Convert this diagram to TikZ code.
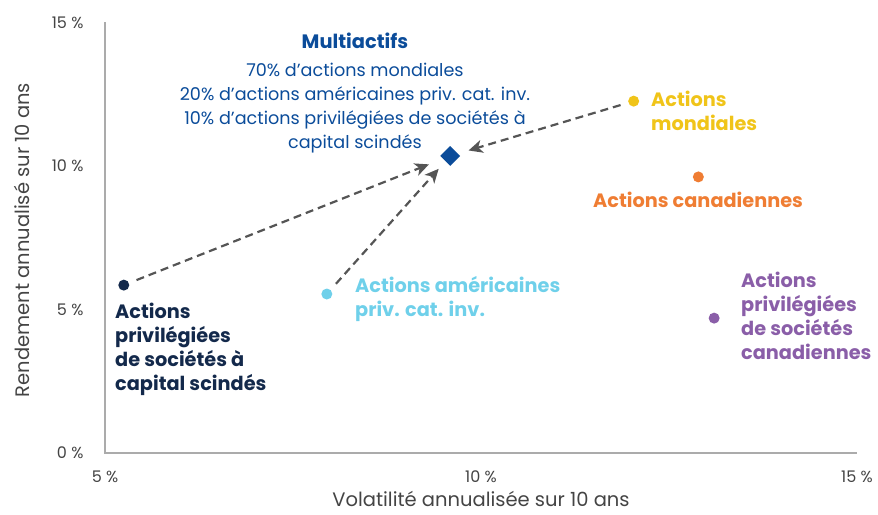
\documentclass[tikz,border=0pt]{standalone}
\usepackage{fontspec}
\setmainfont{Poppins}
\usetikzlibrary{shapes.geometric,arrows.meta}
\definecolor{navy}{HTML}{13294B}
\definecolor{multiblue}{HTML}{0B4C9A}
\definecolor{sky}{HTML}{6FD0EA}
\definecolor{gold}{HTML}{F0C419}
\definecolor{tangerine}{HTML}{EF7D33}
\definecolor{plum}{HTML}{8A5EA8}
\definecolor{arrowgrey}{HTML}{555555}
\definecolor{axisgrey}{HTML}{ABABAB}
\definecolor{textgrey}{HTML}{444444}
\tikzset{
dot/.style={circle,fill=#1,inner sep=0pt,minimum size=11pt},
lbl/.style={text=#1,font=\bfseries\fontsize{19.3}{24}\selectfont,
  align=left,inner sep=0pt,anchor=base west},
flow/.style={draw=arrowgrey,line width=2.2pt,dash pattern=on 8pt off 5pt,
  shorten <=8pt,-{Stealth[length=14pt,width=13pt,inset=4pt]}},
ticklbl/.style={text=textgrey,font=\fontsize{16}{18}\selectfont},
axtitle/.style={text=textgrey,font=\fontsize{19.5}{22}\selectfont}}

\begin{document}
\begin{tikzpicture}[x=75.2pt,y=28.7pt]
\useasboundingbox (3.604,-2.125) rectangle (15.279,15.784);
% axes
\draw[axisgrey,line width=1.2pt] (5,15) -- (5,0) -- (15,0);
\foreach \v in {0,5,10,15}
  \node[ticklbl,anchor=east] (y\v) at (4.76,\v) {\v{} \%};
\foreach \v in {5,10,15}
  \node[ticklbl] (x\v) at (\v,-0.84) {\v{} \%};
\node[axtitle,rotate=90] (ytitle) at (3.896,7.42) {Rendement annualisé sur 10 ans};
\node[axtitle,anchor=base] (xtitle) at (10,-1.88) {Volatilité annualisée sur 10 ans};

% points
\node[dot=navy] (navy) at (5.25,5.85) {};
\node[dot=sky] (sky) at (7.95,5.54) {};
\node[diamond,fill=multiblue,inner sep=0pt,minimum size=20pt] (multi) at (9.59,10.35) {};
\node[dot=gold] (gold) at (12.03,12.26) {};
\node[dot=tangerine] (tangerine) at (12.89,9.62) {};
\node[dot=plum] (plum) at (13.1,4.70) {};

% labels (base = last line)
\node[lbl=navy] (navylbl) at (5.133,2.195) {Actions\\privilégiées\\de sociétés à\\capital scindés};
\node[lbl=sky] (skylbl) at (8.324,4.774) {Actions américaines\\priv. cat. inv.};
\node[lbl=gold] (goldlbl) at (12.26,11.22) {Actions\\mondiales};
\node[lbl=tangerine,anchor=base] (tangerinelbl) at (12.886,8.54) {Actions canadiennes};
\node[lbl=plum] (plumlbl) at (13.457,3.275) {Actions\\privilégiées\\de sociétés\\canadiennes};
\node[text=multiblue,font=\bfseries\fontsize{19.4}{24}\selectfont,anchor=base] (multititle) at (8.324,14.08) {Multiactifs};
\node[text=multiblue,font=\fontsize{17.6}{24}\selectfont,align=center,inner sep=0pt,anchor=base]
  (multilbl) at (8.324,10.627) {70\% d’actions mondiales\\20\% d’actions américaines priv. cat. inv.\\10\% d’actions privilégiées de sociétés à\\capital scindés};

% arrows
\draw[flow,shorten >=15pt] (navy) -- (multi);
\draw[flow,shorten >=10pt] (sky) -- (multi);
\draw[flow,shorten >=11pt] (gold) -- (multi);
\end{tikzpicture}
\end{document}
